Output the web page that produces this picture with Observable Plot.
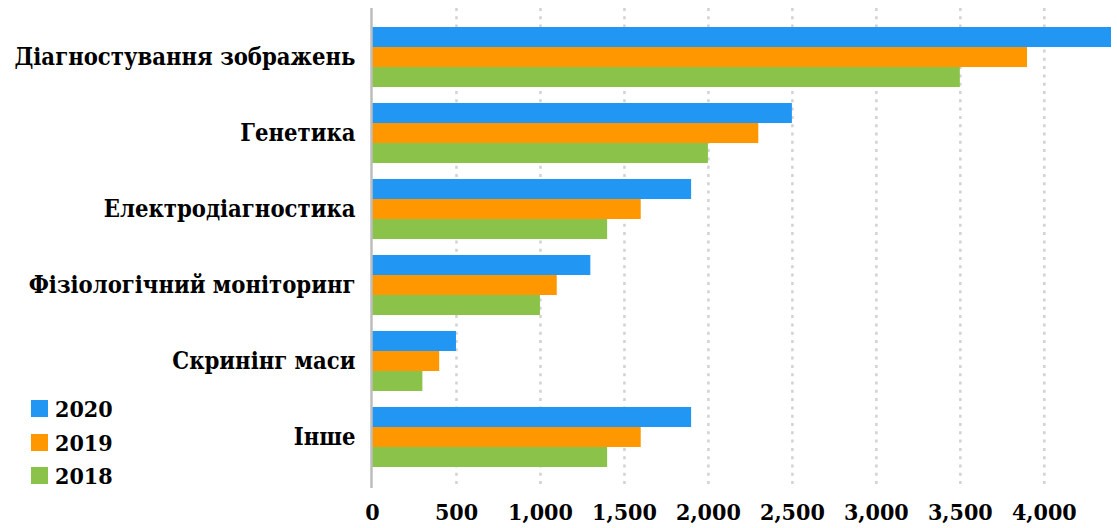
<!DOCTYPE html>
<html><head><meta charset="utf-8">
<script src="https://cdn.jsdelivr.net/npm/d3@7"></script>
<script src="https://cdn.jsdelivr.net/npm/@observablehq/plot@0.6"></script>
<style>
body{margin:0;background:#fff;}
#wrap{position:relative;width:1117px;height:528px;overflow:hidden;}
#wrap svg{display:block;}
#wrap svg text{font-family:"DejaVu Serif Condensed","DejaVu Serif",serif;font-stretch:condensed;font-weight:bold;}
#legend{position:absolute;left:31px;top:392px;font-weight:bold;font-size:23px;font-family:"DejaVu Serif Condensed","DejaVu Serif",serif;font-stretch:condensed;color:#000;}
.item{display:flex;align-items:center;height:33.5px;}
.sw{width:17px;height:17px;margin-right:7px;}
</style></head><body><div id="wrap"><div id="legend"></div></div>
<script>
const categories = ["Діагностування зображень","Генетика","Електродіагностика","Фізіологічний моніторинг","Скринінг маси","Інше"];
const years = ["2020","2019","2018"];
const v2020 = [4400,2500,1900,1300,500,1900];
const v2019 = [3900,2300,1600,1100,400,1600];
const v2018 = [3500,2000,1400,1000,300,1400];
const xTicks = [0,500,1000,1500,2000,2500,3000,3500,4000];
const colors = ["#2196F3","#FF9800","#8BC34A"];

const series = [v2020, v2019, v2018];
const rows = years.flatMap((yr,i)=>categories.map((c,j)=>({category:c, year:yr, value:series[i][j]})));

const chart = Plot.plot({
  width:1117, height:528,
  marginLeft:372, marginRight:6, marginTop:8, marginBottom:40,
  style:{fontWeight:'bold', color:'#000', background:'#fff', overflow:'visible'},
  x:{domain:[0,4400], label:null},
  y:{domain:categories, range:[27,467], paddingInner:0.21, paddingOuter:0, round:false, label:null},
  marks:[
    Plot.ruleX(xTicks.filter(d=>d>0), {stroke:"#d2d2d2", strokeWidth:2.5, strokeDasharray:"3,5.3"}),
    ...years.map((yr,i)=>Plot.barX(rows.filter(r=>r.year===yr), {
      x:"value", y:"category", fill:colors[i], insetTop:i*20, insetBottom:(2-i)*20
    })),
    Plot.ruleX([0], {stroke:"#bdbdbd", strokeWidth:2.5, dx:-1}),
    Plot.axisY({tickSize:0, tickPadding:17, fontSize:23.6, label:null}),
    Plot.axisX({ticks:xTicks, tickFormat:d3.format(","), tickSize:0, tickPadding:15, fontSize:23, label:null})
  ]
});
const wrap = document.getElementById("wrap");
wrap.insertBefore(chart, wrap.firstChild);

const legend = document.getElementById("legend");
years.forEach((yr,i)=>{
  const it = document.createElement("div"); it.className="item";
  const sw = document.createElement("div"); sw.className="sw"; sw.style.background=colors[i];
  const tx = document.createElement("span"); tx.textContent=yr;
  it.appendChild(sw); it.appendChild(tx); legend.appendChild(it);
});
</script>
</body></html>
